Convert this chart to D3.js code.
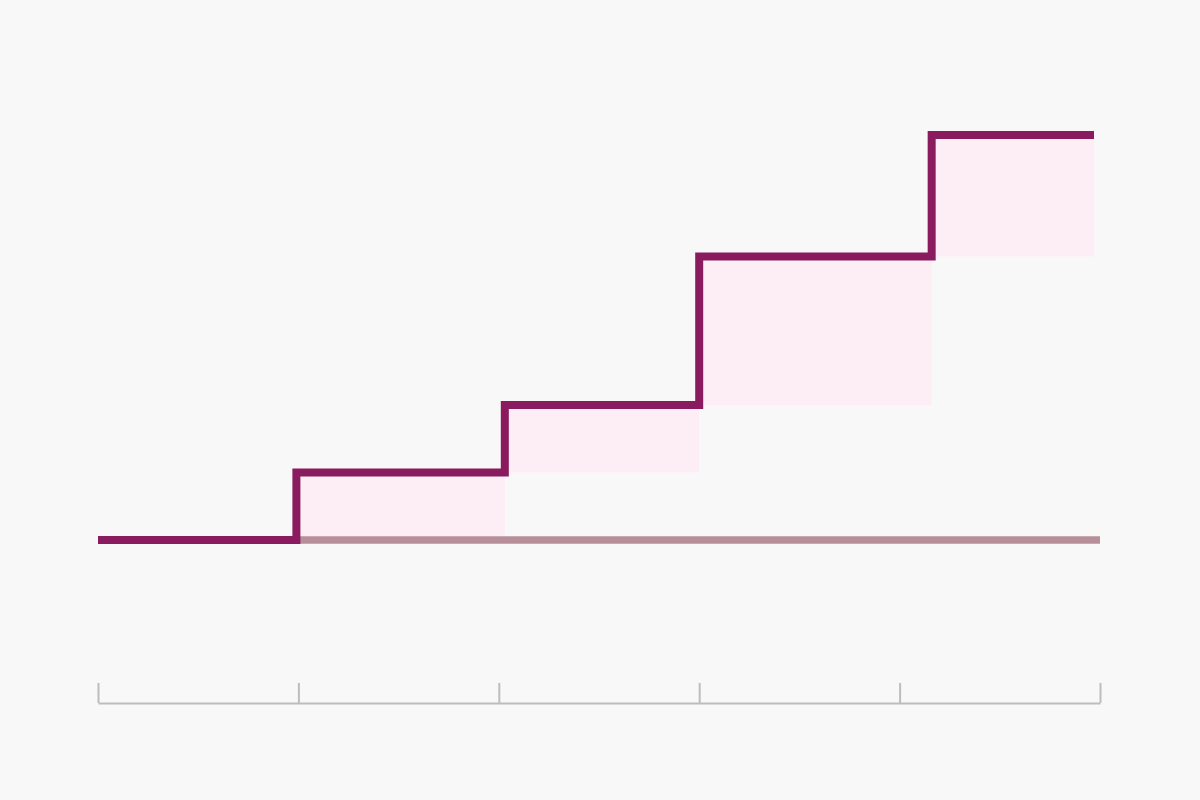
<!DOCTYPE html>
<html>
<head>
<meta charset="utf-8">
<script src="https://cdn.jsdelivr.net/npm/d3@7"></script>
<style>
  html, body { margin: 0; padding: 0; background: #f8f8f8; }
  svg { display: block; }
</style>
</head>
<body>
<script>
// Data
const stepStarts = [0, 0.99, 2.03, 3.0, 4.16];
const stepLevels = [0, 1, 2, 4.2, 6];
const lineEnd = 4.97;
const tickValues = [0, 1, 2, 3, 4, 5];

const W = 1200, H = 800;
const svg = d3.select("body").append("svg").attr("width", W).attr("height", H);
svg.append("rect").attr("width", W).attr("height", H).attr("fill", "#f8f8f8");

const x = d3.scaleLinear().domain([0, 5]).range([98, 1100]);
const y = d3.scaleLinear().domain([0, 6]).range([540, 135]);

// Increment rectangles
const rects = stepStarts.slice(1).map((s, k) => {
  const i = k + 1;
  const e = i + 1 < stepStarts.length ? stepStarts[i + 1] : lineEnd;
  return { x0: s, x1: e, v0: stepLevels[i - 1], v1: stepLevels[i] };
});
svg.append("g").selectAll("rect").data(rects).join("rect")
  .attr("x", d => x(d.x0))
  .attr("width", d => x(d.x1) - x(d.x0))
  .attr("y", d => y(d.v1))
  .attr("height", d => y(d.v0) - y(d.v1))
  .attr("fill", "#fdeef5");

// Baseline
svg.append("line")
  .attr("x1", x(stepStarts[1])).attr("x2", x(5))
  .attr("y1", y(0)).attr("y2", y(0))
  .attr("stroke", "#b78f9b").attr("stroke-width", 7.5);

// Step line
const pts = stepStarts.map((s, i) => [s, stepLevels[i]]);
pts.push([lineEnd, stepLevels[stepLevels.length - 1]]);
const line = d3.line().x(d => x(d[0])).y(d => y(d[1])).curve(d3.curveStepAfter);
svg.append("path").datum(pts)
  .attr("d", line)
  .attr("fill", "none")
  .attr("stroke", "#8a1b5e")
  .attr("stroke-width", 8)
  .attr("stroke-linejoin", "miter");

// Axis
const axis = d3.axisTop(x).tickValues(tickValues).tickSize(20).tickSizeOuter(0).tickFormat("");
const ag = svg.append("g").attr("transform", "translate(0,703)").call(axis);
ag.select(".domain").attr("stroke", "#bdbdbd").attr("stroke-width", 2);
ag.selectAll(".tick line").attr("stroke", "#bdbdbd").attr("stroke-width", 2);
</script>
</body>
</html>
